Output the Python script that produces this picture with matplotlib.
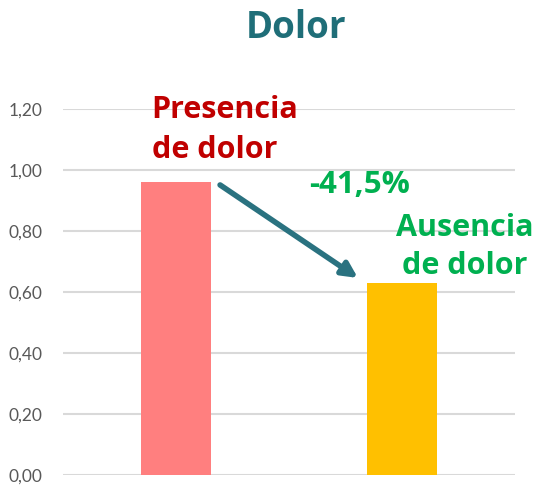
import matplotlib
matplotlib.use("Agg")
import matplotlib.pyplot as plt

categories = ["Presencia de dolor", "Ausencia de dolor"]
values = [0.96, 0.63]
bar_colors = ["#FF7F7F", "#FFC000"]
yticks = [0.0, 0.2, 0.4, 0.6, 0.8, 1.0, 1.2]
change_label = "-41,5%"

plt.rcParams['font.family'] = ['Lato', 'DejaVu Sans']

fig = plt.figure(figsize=(5.42, 4.9), dpi=100)
ax = fig.add_axes([63/542, 1-475/490, (515-63)/542, (475-109)/490])

x = list(range(len(categories)))
ax.bar(x, values, width=0.31, color=bar_colors, zorder=3)
ax.set_xlim(-0.5, 1.5)
ax.set_ylim(0, 1.2)
ax.set_yticks(yticks)
ax.set_yticklabels([f"{v:.2f}".replace(".", ",") for v in yticks], color="#595959", fontsize=12.5)
ax.set_xticks([])
ax.grid(axis="y", color="#D9D9D9", lw=1.5, zorder=0)
for s in ax.spines.values():
    s.set_visible(False)
ax.tick_params(axis="y", length=0, pad=15)

ann_font = ['Open Sans', 'DejaVu Sans']
fig.text(296/542, 1-28/490, "Dolor", ha="center", va="center", fontsize=26.5,
         fontweight="bold", color="#1F6E78", family=ann_font)

ax.text(0.217, 1.131, "Presencia\nde dolor", ha="center", va="center", fontsize=22,
        fontweight="bold", color="#C00000", linespacing=1.45, multialignment="left",
        clip_on=False, zorder=5, family=ann_font)
ax.text(1.279, 0.748, "Ausencia\nde dolor", ha="center", va="center", fontsize=22,
        fontweight="bold", color="#00B050", linespacing=1.35, clip_on=False, zorder=5,
        family=ann_font)
ax.text(0.814, 0.951, change_label, ha="center", va="center", fontsize=22.5,
        fontweight="bold", color="#00B050", zorder=5, family=ann_font)

ax.annotate("", xy=(0.805, 0.646), xytext=(0.195, 0.951),
            arrowprops=dict(arrowstyle="-|>,head_length=0.9,head_width=0.45",
                            color="#2A7280", lw=4, shrinkA=0, shrinkB=0), zorder=4)

fig.savefig("out.png", dpi=100)
